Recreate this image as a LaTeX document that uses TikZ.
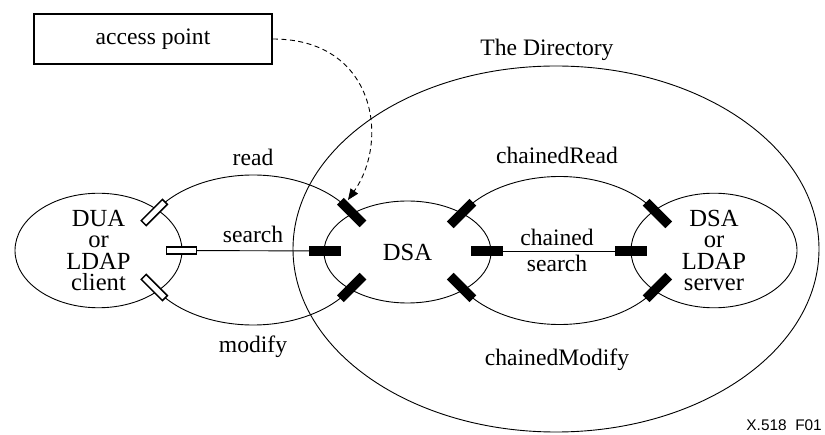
\documentclass[tikz,border=0pt]{standalone}
\usepackage{fontspec}
\setmainfont{Liberation Serif}
\newfontfamily\labelsans{Liberation Sans}
\usetikzlibrary{shapes.geometric,arrows.meta}
\pgfdeclarelayer{bg}
\pgfsetlayers{bg,main}
\begin{document}
\begin{tikzpicture}[x=1pt,y=1pt,
  lbl/.style={font=\fontsize{23.6}{26.7}\selectfont, inner sep=0, anchor=base},
  ell/.style={draw, ellipse, line width=0.9pt, inner sep=0, align=center, font=\fontsize{24.6}{21.5}\selectfont},
  hport/.style={rectangle, draw, fill=white, line width=1.5pt, minimum width=30pt, minimum height=7pt, inner sep=0},
  bport/.style={rectangle, fill=black, minimum width=32pt, minimum height=9.5pt, inner sep=0},
  conn/.style={line width=0.9pt},
  apbox/.style={rectangle, draw, line width=1.8pt, minimum width=238pt, minimum height=50pt, inner sep=0, font=\fontsize{23.6}{26.7}\selectfont}
]
\useasboundingbox (0,0) rectangle (825,-435);

% ellipses
\node[draw, ellipse, line width=0.9pt, minimum width=526pt, minimum height=366pt, inner sep=0] (dir) at (556,-249) {};
\node[ell, minimum width=167pt, minimum height=107pt] (dua) at (98.5,-250.5) {DUA\\or\\LDAP\\client};
\node[ell, minimum width=167pt, minimum height=102pt] (dsa) at (407.5,-252) {DSA};
\node[ell, minimum width=166pt, minimum height=105pt] (srv) at (714,-250.5) {DSA\\or\\LDAP\\server};

% ports
\node[hport, rotate=45]  (pa1) at (154.3,-212.5) {};
\node[hport]             (pa2) at (181.5,-250.5) {};
\node[hport, rotate=-45] (pa3) at (154.3,-287.5) {};
\node[bport, rotate=-45] (pb1) at (351.7,-212.5) {};
\node[bport]             (pb2) at (325,-251) {};
\node[bport, rotate=45]  (pb3) at (351.7,-287.5) {};
\node[bport, rotate=45]  (pc1) at (461.6,-213.5) {};
\node[bport]             (pc2) at (487,-251) {};
\node[bport, rotate=-45] (pc3) at (461.6,-287.5) {};
\node[bport, rotate=-45] (pd1) at (657.4,-213.5) {};
\node[bport]             (pd2) at (631,-251) {};
\node[bport, rotate=45]  (pd3) at (657.4,-287.5) {};

% connectors (behind ports)
\begin{pgfonlayer}{bg}
\draw[conn] (pa1.center) arc[start angle=150, end angle=30, x radius=114, y radius=75];
\draw[conn] (pa3.center) arc[start angle=210, end angle=330, x radius=114, y radius=75];
\draw[conn] (pc1.center) arc[start angle=150, end angle=30, x radius=113, y radius=74];
\draw[conn] (pc3.center) arc[start angle=210, end angle=330, x radius=113, y radius=74];
\draw[conn] (pa2.center) -- (pb2.center);
\draw[conn] (pc2.center) -- (pd2.center);
\end{pgfonlayer}

% labels
\node[lbl] (lread) at (253,-165.7) {read};
\node[lbl] (lsearch) at (253,-242.3) {search};
\node[lbl] (lmod) at (253,-352.3) {modify};
\node[lbl] (lcr) at (557,-163.3) {chainedRead};
\node[lbl, anchor=center, align=center] (lcs) at (557,-250.3) {chained\\search};
\node[lbl] (lcm) at (557,-365.7) {chainedModify};
\node[lbl] (ldir) at (547,-55.7) {The Directory};

% access point
\node[apbox] (ap) at (153,-39) {access point};
\coordinate (tip) at (348,-200);
\draw[conn, dash pattern=on 5pt off 3.5pt, -{Triangle[length=11pt,width=9pt]}] (ap.east) .. controls (375,-39) and (390,-140) .. (tip);

\node[anchor=base east, inner sep=0, font=\labelsans\fontsize{15.4}{18}\selectfont] (fig) at (822,-431) {X.518\ \ F01};
\end{tikzpicture}
\end{document}
